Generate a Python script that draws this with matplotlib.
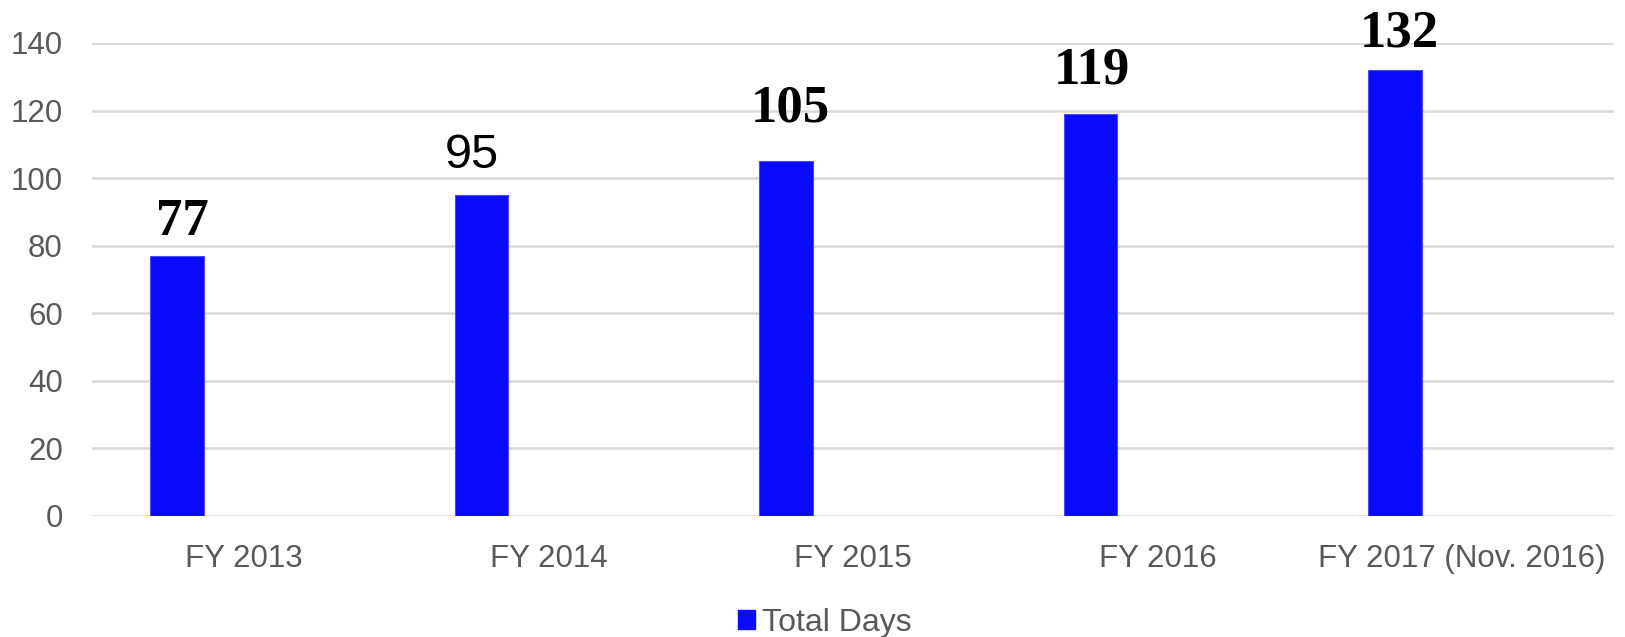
import matplotlib
matplotlib.use("Agg")
import matplotlib.pyplot as plt
from matplotlib.patches import Patch
import numpy as np

# Data
categories = ["FY 2013", "FY 2014", "FY 2015", "FY 2016", "FY 2017 (Nov. 2016)"]
total_days = [77, 95, 105, 119, 132]
series_name = "Total Days"
y_ticks = [0, 20, 40, 60, 80, 100, 120, 140]

# Per-label styling: (bold serif or plain sans), vertical gap (pt), horizontal nudge (pt)
label_bold = [True, False, True, True, True]
label_gap = [7, 12, 21, 14, 9]
label_dx = [4, -7, 3, 1, 3]

BAR_COLOR = "#0a0aff"
GRID_COLOR = "#d9d9d9"
TEXT_GREY = "#595959"

fig = plt.figure(figsize=(16.25, 6.37), dpi=100)
ax = fig.add_axes([0.0566, 0.19, 0.9366, 0.7425])

x = np.arange(len(categories))
bar_offset = -0.22
bar_width = 0.176
bars = ax.bar(x + bar_offset, total_days, width=bar_width, color=BAR_COLOR,
              edgecolor="#4a4aff", linewidth=0.8, zorder=3, label=series_name)

ax.set_xlim(-0.5, len(categories) - 0.5)
ax.set_ylim(0, 140)
ax.set_yticks(y_ticks)
ax.set_yticklabels([str(t) for t in y_ticks])
ax.set_xticks(x)
ax.set_xticklabels(categories)

for side in ["top", "right", "left", "bottom"]:
    ax.spines[side].set_visible(False)
ax.tick_params(axis="both", length=0, labelsize=22.5, labelcolor=TEXT_GREY)
ax.tick_params(axis="y", pad=21)
ax.tick_params(axis="x", pad=20)
for lbl in ax.get_xticklabels() + ax.get_yticklabels():
    lbl.set_fontfamily("Liberation Sans")

ax.yaxis.grid(True, color=GRID_COLOR, linewidth=1.8, zorder=0)
ax.set_axisbelow(True)

# Value labels above each bar
for xi, val, bold, gap, dx in zip(x, total_days, label_bold, label_gap, label_dx):
    if bold:
        kw = dict(fontfamily="Liberation Serif", fontweight="bold", fontsize=38)
    else:
        kw = dict(fontfamily="Liberation Sans", fontweight="normal", fontsize=35)
    ax.annotate(str(val), xy=(xi + bar_offset, val), xytext=(dx, gap),
                textcoords="offset points", ha="center", va="bottom",
                color="black", annotation_clip=False, zorder=4, **kw)

handle = Patch(facecolor=BAR_COLOR, edgecolor=BAR_COLOR, label=series_name)
leg = fig.legend(handles=[handle], loc="lower center", bbox_to_anchor=(0.5074, -0.026),
                 frameon=False, borderpad=0, handlelength=0.53, handleheight=0.53,
                 handletextpad=0.22, prop={"family": "Liberation Sans", "size": 23})
for t in leg.get_texts():
    t.set_color(TEXT_GREY)

fig.savefig("out.png", dpi=100)
